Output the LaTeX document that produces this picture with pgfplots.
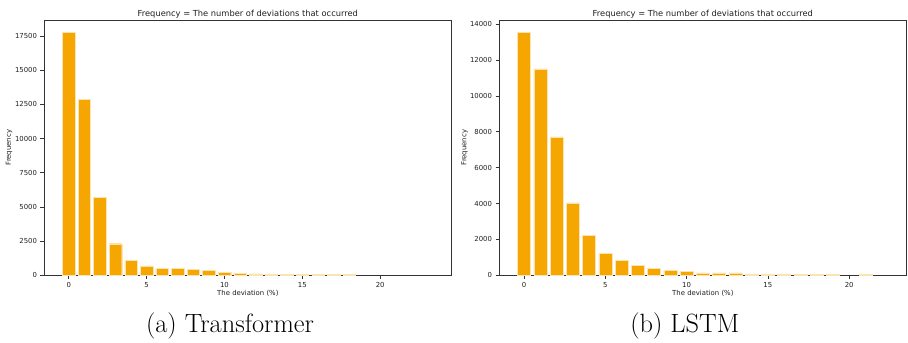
\documentclass[border=0pt]{standalone}
\usepackage{pgfplots}
\pgfplotsset{compat=1.18}
\usepackage{fontspec}
\newfontfamily\dejavu{DejaVu Sans}
\definecolor{barorange}{RGB}{246,166,0}
\definecolor{txt}{RGB}{30,30,30}
\pgfplotstableread{
x y
0 17770
1 12890
2 5680
3 2310
4 1100
5 680
6 510
7 500
8 440
9 340
10 240
11 150
12 100
13 60
14 55
15 55
16 50
17 50
18 45
}\transformer
\pgfplotstableread{
x y
0 13540
1 11500
2 7710
3 4030
4 2210
5 1210
6 850
7 540
8 370
9 280
10 220
11 130
12 130
13 130
14 55
15 50
16 50
17 50
18 50
19 50
21 50
}\lstm
\pgfplotsset{
  panel/.style={
    anchor=south west, scale only axis,
    width=407.7pt, height=255.3pt,
    axis line style={black!80, line width=0.6pt},
    tick style={black!80, line width=0.6pt},
    tick align=outside, tick pos=left,
    major tick length=3.5pt,
    ymin=0,
    tick label style={font=\dejavu\fontsize{6.9}{8}\selectfont, text=txt},
    /pgf/number format/assume math mode=true,
    /pgf/number format/1000 sep={},
    scaled y ticks=false,
    xtick={0,5,10,15,20},
    title={Frequency = The number of deviations that occurred},
    every axis title/.style={font=\dejavu\fontsize{8.3}{10}\selectfont, text=txt, at={(axis description cs:0.5,1)}, anchor=center, yshift=6.2pt},
    xlabel={The deviation (\%)},
    every axis x label/.style={font=\dejavu\fontsize{6.9}{8}\selectfont, text=txt, at={(axis description cs:0.5,-18/255.3)}, anchor=center},
    ylabel={Frequency},
    every axis y label/.style={font=\dejavu\fontsize{6.9}{8}\selectfont, text=txt, anchor=center, rotate=90},
  },
}
\begin{document}
\begin{tikzpicture}[x=1pt,y=1pt]
\path (0,0) rectangle (908,341);
\begin{axis}[panel, at={(44pt,65.7pt)},
  xmin=-1.59, xmax=24.59, ymax=18669,
  ytick={0,2500,5000,7500,10000,12500,15000,17500},
  ylabel style={at={(axis description cs:-35/407.7,0.5)}}]
\addplot[ybar, bar width=0.8, fill=barorange, draw=white!70!barorange, line width=0.4pt] table[x=x,y=y] {\transformer};
\end{axis}
\begin{axis}[panel, at={(499pt,65.7pt)},
  xmin=-1.54, xmax=23.54, ymax=14224,
  ytick={0,2000,4000,6000,8000,10000,12000,14000},
  ylabel style={at={(axis description cs:-34.3/407.7,0.5)}}]
\addplot[ybar, bar width=0.8, fill=barorange, draw=white!70!barorange, line width=0.4pt] table[x=x,y=y] {\lstm};
\end{axis}
\node[anchor=base, font=\fontsize{26.4}{30}\selectfont] at (230,8) {(a) Transformer};
\node[anchor=base, font=\fontsize{26.4}{30}\selectfont] at (684.8,8) {(b) LSTM};
\end{tikzpicture}
\end{document}
